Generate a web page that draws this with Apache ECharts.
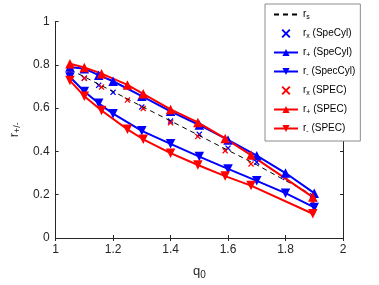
<!DOCTYPE html>
<html><head><meta charset="utf-8">
<script src="https://cdn.jsdelivr.net/npm/echarts@6/dist/echarts.min.js"></script>
<style>html,body{margin:0;padding:0;background:#fff}#c{width:379px;height:285px}</style>
</head><body><div id="c"></div>
<script>
// ---- data ----
var qBlue = [1.05, 1.1, 1.15, 1.2, 1.3, 1.4, 1.5, 1.6, 1.7, 1.8, 1.9];
var rsVals = [0.777, 0.745, 0.71, 0.677, 0.608, 0.541, 0.473, 0.405, 0.338, 0.265, 0.195];
var rxBlue = [0.77, 0.738, 0.705, 0.673, 0.605, 0.54, 0.479, 0.415, 0.35, 0.28, 0.18];
var rpBlue = [0.79, 0.782, 0.752, 0.724, 0.655, 0.585, 0.522, 0.453, 0.38, 0.30, 0.207];
var rmBlue = [0.744, 0.677, 0.622, 0.574, 0.495, 0.435, 0.376, 0.319, 0.264, 0.207, 0.141];
var qRed = [1.05, 1.1, 1.16, 1.25, 1.305, 1.4, 1.495, 1.59, 1.68, 1.895];
var rxRed = [0.772, 0.738, 0.697, 0.637, 0.598, 0.532, 0.469, 0.403, 0.342, 0.168];
var rpRed = [0.805, 0.788, 0.759, 0.707, 0.666, 0.594, 0.534, 0.46, 0.383, 0.189];
var rmRed = [0.727, 0.655, 0.589, 0.502, 0.456, 0.392, 0.337, 0.286, 0.242, 0.112];
var xTicks = [1, 1.2, 1.4, 1.6, 1.8, 2];
var yTicks = [0, 0.2, 0.4, 0.6, 0.8, 1];
var names = ['rs', 'rxB', 'rpB', 'rmB', 'rxR', 'rpR', 'rmR'];
var labels = {
  rs: '{r|r}{s|s}',
  rxB: '{r|r}{s|x}{r| (SpeCyl)}',
  rpB: '{r|r}{s|+}{r| (SpeCyl)}',
  rmB: '{r|r}{s|-}{r| (SpecCyl)}',
  rxR: '{r|r}{s|x}{r| (SPEC)}',
  rpR: '{r|r}{s|+}{r| (SPEC)}',
  rmR: '{r|r}{s|-}{r| (SPEC)}'
};
// ---- build ----
function pairs(xs, ys) { return xs.map(function (x, i) { return [x, ys[i]]; }); }
var XSYM = 'path://M0,1.5L1.5,0L5,3.5L8.5,0L10,1.5L6.5,5L10,8.5L8.5,10L5,6.5L1.5,10L0,8.5L3.5,5Z';
var axisCol = '#262626';
var font = 'Liberation Sans, Arial, Helvetica, sans-serif';
function lineSeries(name, xs, ys, col, down) {
  return {
    name: name, type: 'line', data: pairs(xs, ys),
    symbol: 'triangle', symbolSize: 9.5, symbolRotate: down ? 180 : 0,
    lineStyle: { color: col, width: 2 }, itemStyle: { color: col },
    animation: false
  };
}
function xSeries(name, xs, ys, col) {
  return {
    name: name, type: 'scatter', data: pairs(xs, ys),
    symbol: XSYM, symbolSize: 6, itemStyle: { color: col, opacity: 1 }, animation: false
  };
}
var series = [
  { name: 'rs', type: 'line', data: pairs(qBlue, rsVals), symbol: 'none',
    lineStyle: { color: '#000', width: 1, type: [5, 4] }, itemStyle: { color: '#000' }, animation: false },
  xSeries('rxB', qBlue, rxBlue, '#0000ff'),
  lineSeries('rpB', qBlue, rpBlue, '#0000ff', false),
  lineSeries('rmB', qBlue, rmBlue, '#0000ff', true),
  xSeries('rxR', qRed, rxRed, '#ff0000'),
  lineSeries('rpR', qRed, rpRed, '#ff0000', false),
  lineSeries('rmR', qRed, rmRed, '#ff0000', true)
];
var common = {
  axisLine: { lineStyle: { color: axisCol, width: 1 } },
  axisTick: { inside: true, length: 3, lineStyle: { color: axisCol } },
  splitLine: { show: false }
};
var chart = echarts.init(document.getElementById('c'), null, { renderer: 'canvas' });
chart.setOption({
  backgroundColor: '#fff',
  textStyle: { fontFamily: font },
  grid: { left: 49, right: 36, top: 21.5, bottom: 45.5 },
  xAxis: [
    Object.assign({ type: 'value', min: 1, max: 2, interval: 0.2, position: 'bottom',
      name: '{r|q}{s|0}', nameLocation: 'middle', nameGap: 25,
      nameTextStyle: { rich: { r: { fontSize: 13, color: axisCol, fontFamily: font }, s: { fontSize: 10, color: axisCol, fontFamily: font, padding: [7, 0, 0, 0] } } },
      axisLabel: { color: axisCol, fontSize: 12, fontFamily: font, margin: 6,
        formatter: function (v) { var i = xTicks.indexOf(Math.round(v * 10) / 10); return i >= 0 ? String(xTicks[i]) : ''; } }
    }, common),
    Object.assign({ type: 'value', min: 1, max: 2, interval: 0.2, position: 'top', axisLabel: { show: false } }, common)
  ],
  yAxis: [
    Object.assign({ type: 'value', min: 0, max: 1, interval: 0.2, position: 'left',
      name: '{r|r}{s|+/-}', nameLocation: 'middle', nameGap: 33, nameRotate: 90,
      nameTextStyle: { rich: { r: { fontSize: 13, color: axisCol, fontFamily: font }, s: { fontSize: 9, color: axisCol, fontFamily: font, padding: [6, 0, 0, 0] } } },
      axisLabel: { color: axisCol, fontSize: 12, fontFamily: font, margin: 6,
        formatter: function (v) { var i = yTicks.indexOf(Math.round(v * 10) / 10); return i >= 0 ? String(yTicks[i]) : ''; } }
    }, common),
    Object.assign({ type: 'value', min: 0, max: 1, interval: 0.2, position: 'right', axisLabel: { show: false } }, common)
  ],
  legend: {
    orient: 'vertical', left: 265, top: 4,
    padding: [4, 5, 6, 8], itemGap: 6, itemWidth: 24, itemHeight: 9,
    backgroundColor: '#fff', borderColor: '#8c8c8c', borderWidth: 1,
    data: names.map(function (n) {
      return n === 'rs' ? { name: n, itemStyle: { opacity: 0 } } : { name: n };
    }),
    formatter: function (n) { return labels[n]; },
    textStyle: { rich: {
      r: { fontSize: 10, lineHeight: 12, color: '#000', fontFamily: font },
      s: { fontSize: 7, lineHeight: 8, color: '#000', fontFamily: font, padding: [6, 0, 0, 0] }
    } },
    selectedMode: false
  },
  series: series
});
</script></body></html>
